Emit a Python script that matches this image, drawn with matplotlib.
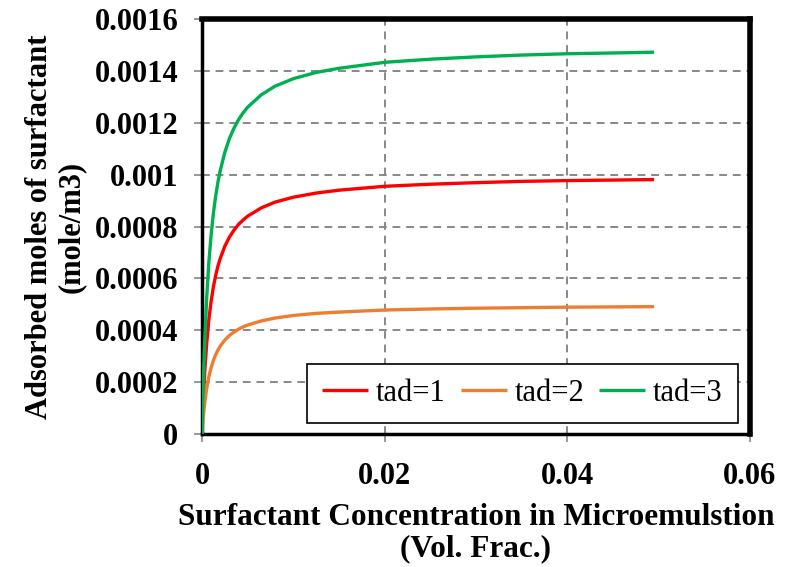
import matplotlib
matplotlib.use("Agg")
import matplotlib.pyplot as plt
from matplotlib.ticker import FuncFormatter

# Surfactant concentration (vol. frac.)
conc = [0, 0.0001, 0.0002, 0.0003, 0.0005, 0.00075, 0.001, 0.00125, 0.0015,
        0.00175, 0.002, 0.0025, 0.003, 0.0035, 0.004, 0.0045, 0.005, 0.0065,
        0.008, 0.01, 0.0125, 0.015, 0.02, 0.025, 0.03, 0.035, 0.04, 0.045, 0.0495]

# Adsorbed moles of surfactant (mole/m3)
tad1 = [0, 0.000095, 0.000174, 0.000240, 0.000344, 0.000441, 0.000512, 0.000568,
        0.000612, 0.000648, 0.000677, 0.000724, 0.000759, 0.000786, 0.000808,
        0.000825, 0.000840, 0.000872, 0.000894, 0.000913, 0.000929, 0.000940,
        0.000955, 0.000963, 0.000969, 0.000974, 0.000977, 0.000979, 0.000981]
tad2 = [0, 0.000048, 0.000087, 0.000120, 0.000172, 0.000221, 0.000256, 0.000284,
        0.000306, 0.000324, 0.000339, 0.000362, 0.000380, 0.000393, 0.000404,
        0.000413, 0.000420, 0.000436, 0.000447, 0.000457, 0.000465, 0.000470,
        0.000478, 0.000482, 0.000485, 0.000487, 0.000489, 0.000490, 0.000491]
tad3 = [0, 0.000143, 0.000261, 0.000360, 0.000516, 0.000662, 0.000768, 0.000852,
        0.000918, 0.000972, 0.001016, 0.001086, 0.001139, 0.001179, 0.001212,
        0.001238, 0.001260, 0.001308, 0.001341, 0.001370, 0.001394, 0.001410,
        0.001433, 0.001445, 0.001454, 0.001461, 0.001466, 0.001469, 0.001472]

series = [("tad=1", tad1, "#ff0000"),
          ("tad=2", tad2, "#ed7d31"),
          ("tad=3", tad3, "#00b050")]

x_ticks = [0, 0.02, 0.04, 0.06]
y_ticks = [0, 0.0002, 0.0004, 0.0006, 0.0008, 0.001, 0.0012, 0.0014, 0.0016]

plt.rcParams["font.family"] = ["Liberation Serif", "DejaVu Serif"]

fig = plt.figure(figsize=(7.91, 5.67), dpi=100)
ax = fig.add_axes([202 / 791, 1 - 434 / 567, 548 / 791, 415 / 567])

for label, vals, color in series:
    ax.plot(conc, vals, color=color, lw=2.4, label=label, solid_capstyle="butt",
            solid_joinstyle="round", zorder=3)

ax.set_xlim(0, 0.06)
ax.set_ylim(0, 0.0016)
ax.set_xticks(x_ticks)
ax.set_yticks(y_ticks)
fmt = FuncFormatter(lambda v, p: "%g" % round(v, 6))
ax.xaxis.set_major_formatter(fmt)
ax.yaxis.set_major_formatter(fmt)

for lab in ax.get_xticklabels() + ax.get_yticklabels():
    lab.set_fontweight("bold")
    lab.set_fontsize(22)

ax.tick_params(axis="both", direction="out", length=6, width=1.2, color="#888888")
ax.tick_params(axis="y", pad=11)
ax.tick_params(axis="x", pad=14)

# dashed interior grid
for yv in y_ticks[1:-1]:
    ax.axhline(yv, color="#888888", lw=1.4, ls=(0, (4, 3)), zorder=1)
for xv in x_ticks[1:-1]:
    ax.axvline(xv, color="#888888", lw=1.4, ls=(0, (4, 3)), zorder=1)

for side in ["top", "right"]:
    ax.spines[side].set_linewidth(4)
    ax.spines[side].set_color("black")
for side in ["left", "bottom"]:
    ax.spines[side].set_linewidth(2.5)
    ax.spines[side].set_color("black")

ax.set_xlabel("Surfactant Concentration in Microemulstion\n(Vol. Frac.)",
              fontsize=22.5, fontweight="bold", labelpad=9, linespacing=1.1)
ax.set_ylabel("Adsorbed moles of surfactant\n(mole/m3)",
              fontsize=22, fontweight="bold", labelpad=6, linespacing=1.15)

leg = ax.legend(loc="lower right", ncol=3, fontsize=22, frameon=True,
                fancybox=False, framealpha=1, edgecolor="black",
                handlelength=1.5, handletextpad=0.25, columnspacing=0.5,
                borderpad=0.5, borderaxespad=0.0,
                bbox_to_anchor=(0.978, 0.026))
leg.get_frame().set_linewidth(1.2)

fig.savefig("out.png", dpi=100, facecolor="white")
